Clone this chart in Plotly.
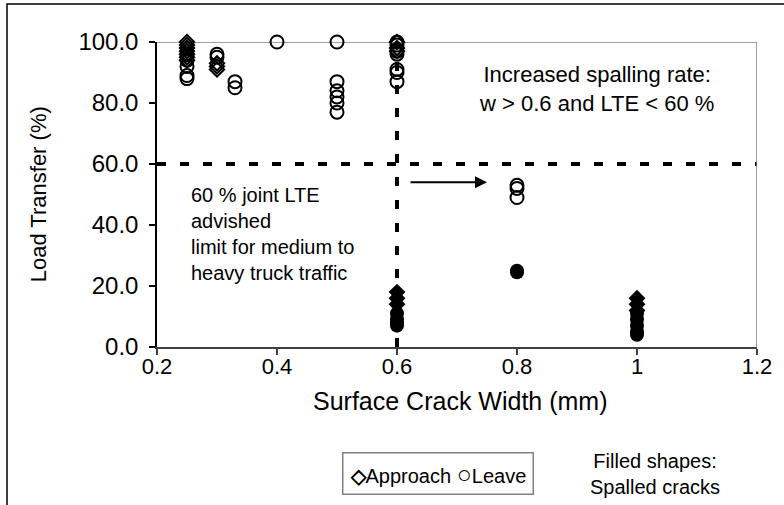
import plotly.graph_objects as go

# Joint load transfer efficiency vs surface crack width
# Unspalled cracks (open markers)
approach_x = [0.25, 0.25, 0.25, 0.25, 0.25, 0.25, 0.25, 0.3, 0.3, 0.3, 0.6, 0.6, 0.6]
approach_y = [100, 99, 98, 97, 96, 95, 94, 93, 92, 91, 100, 98, 97]

leave_x = [0.25, 0.25, 0.25, 0.25, 0.25, 0.3, 0.3, 0.33, 0.33, 0.4,
           0.5, 0.5, 0.5, 0.5, 0.5, 0.5,
           0.6, 0.6, 0.6, 0.6, 0.6, 0.6, 0.6,
           0.8, 0.8, 0.8]
leave_y = [96, 94, 92, 89, 88, 96, 95, 87, 85, 100,
           100, 87, 84, 82, 80, 77,
           100, 99, 97, 96, 91, 90, 87,
           53, 52, 49]

# Spalled cracks (filled markers)
approach_sp_x = [0.6, 0.6, 0.6, 1.0, 1.0, 1.0]
approach_sp_y = [18, 16, 14, 16, 14, 12]

leave_sp_x = [0.6, 0.6, 0.6, 0.6, 0.8, 0.8, 1.0, 1.0, 1.0, 1.0, 1.0]
leave_sp_y = [11, 9, 8, 7, 25, 24.5, 11, 9, 7, 5, 4]

x_ticks = [0.2, 0.4, 0.6, 0.8, 1.0, 1.2]
x_tick_text = ["0.2", "0.4", "0.6", "0.8", "1", "1.2"]
y_ticks = [0, 20, 40, 60, 80, 100]

LTE_LIMIT = 60
WIDTH_LIMIT = 0.6

FONT = "Liberation Sans, Arial, sans-serif"

fig = go.Figure()

open_line = dict(color="black", width=2)
fig.add_trace(go.Scatter(x=leave_x, y=leave_y, mode="markers", name="Leave",
                         marker=dict(symbol="circle-open", size=13, line=open_line, color="black"),
                         cliponaxis=False, showlegend=False))
fig.add_trace(go.Scatter(x=approach_x, y=approach_y, mode="markers", name="Approach",
                         marker=dict(symbol="diamond-open", size=11, line=open_line, color="black"),
                         cliponaxis=False, showlegend=False))
fig.add_trace(go.Scatter(x=leave_sp_x, y=leave_sp_y, mode="markers", name="Leave (spalled)",
                         marker=dict(symbol="circle", size=14, color="black"),
                         cliponaxis=False, showlegend=False))
fig.add_trace(go.Scatter(x=approach_sp_x, y=approach_sp_y, mode="markers", name="Approach (spalled)",
                         marker=dict(symbol="diamond", size=13, color="black"),
                         cliponaxis=False, showlegend=False))

dash = "9px,14px"
shapes = [
    # 60 % LTE limit and 0.6 mm width limit
    dict(type="line", xref="x", yref="y", x0=0.2, x1=1.2, y0=LTE_LIMIT, y1=LTE_LIMIT,
         line=dict(color="black", width=4, dash=dash), layer="below"),
    dict(type="line", xref="x", yref="y", x0=WIDTH_LIMIT, x1=WIDTH_LIMIT, y0=0, y1=100,
         line=dict(color="black", width=4, dash=dash), layer="below"),
    # plot area frame (top and right)
    dict(type="line", xref="x", yref="y", x0=0.2, x1=1.2, y0=100, y1=100,
         line=dict(color="#808080", width=1.5), layer="below"),
    dict(type="line", xref="x", yref="y", x0=1.2, x1=1.2, y0=0, y1=100,
         line=dict(color="#808080", width=1.5), layer="below"),
    # chart border
    dict(type="rect", xref="paper", yref="paper", x0=-0.25, x1=1.6, y0=-2.0, y1=1.1246,
         line=dict(color="black", width=1.5), layer="below"),
]


def note(x, y, text, size, **kw):
    base = dict(x=x, y=y, xref="paper", yref="paper", showarrow=False, text=text,
                xanchor="center", yanchor="middle",
                font=dict(size=size, color="black", family=FONT))
    base.update(kw)
    return base


annotations = [
    dict(x=0.75, y=54, ax=0.62, ay=54, xref="x", yref="y", axref="x", ayref="y",
         text="", showarrow=True, arrowhead=2, arrowsize=1.2, arrowwidth=2, arrowcolor="black"),
    note(0.733, 0.846, "Increased spalling rate:<br>w &gt; 0.6 and LTE &lt; 60 %", 22, align="center"),
    note(0.053, 0.369, "60 % joint LTE<br>advished<br>limit for medium to<br>heavy truck traffic", 20,
         xanchor="left", align="left"),
    note(-0.197, 0.5, "Load Transfer (%)", 22, textangle=-90),
    note(0.505, -0.177, "Surface Crack Width (mm)", 25),
    note(0.468, -0.416, "<b>\u25c7</b>Approach <span style=\"font-size:25px\">\u25cb</span>Leave", 20,
         bordercolor="#808080", borderwidth=1.5, borderpad=6, bgcolor="white"),
    note(0.83, -0.418, "Filled shapes:<br>Spalled cracks", 20, align="center"),
]

fig.update_layout(
    width=784, height=505, autosize=False,
    margin=dict(l=157, r=27, t=42, b=158),
    paper_bgcolor="white", plot_bgcolor="white",
    font=dict(family=FONT, color="black"),
    shapes=shapes, annotations=annotations, showlegend=False,
)
fig.update_xaxes(range=[0.2, 1.2], tickvals=x_ticks, ticktext=x_tick_text,
                 showgrid=False, zeroline=False, showline=True, linecolor="#404040", linewidth=1.5,
                 ticks="outside", ticklen=6, tickcolor="#404040", tickwidth=1.5,
                 ticklabelstandoff=-7,
                 tickfont=dict(size=22, color="black", family=FONT))
fig.update_yaxes(range=[0, 100], tickvals=y_ticks, tickformat=".1f",
                 showgrid=False, zeroline=False, showline=True, linecolor="black", linewidth=1.5,
                 ticks="outside", ticklen=6, tickcolor="black", tickwidth=1.5,
                 ticklabelstandoff=6,
                 tickfont=dict(size=24, color="black", family=FONT))

fig.write_html("out.html")
